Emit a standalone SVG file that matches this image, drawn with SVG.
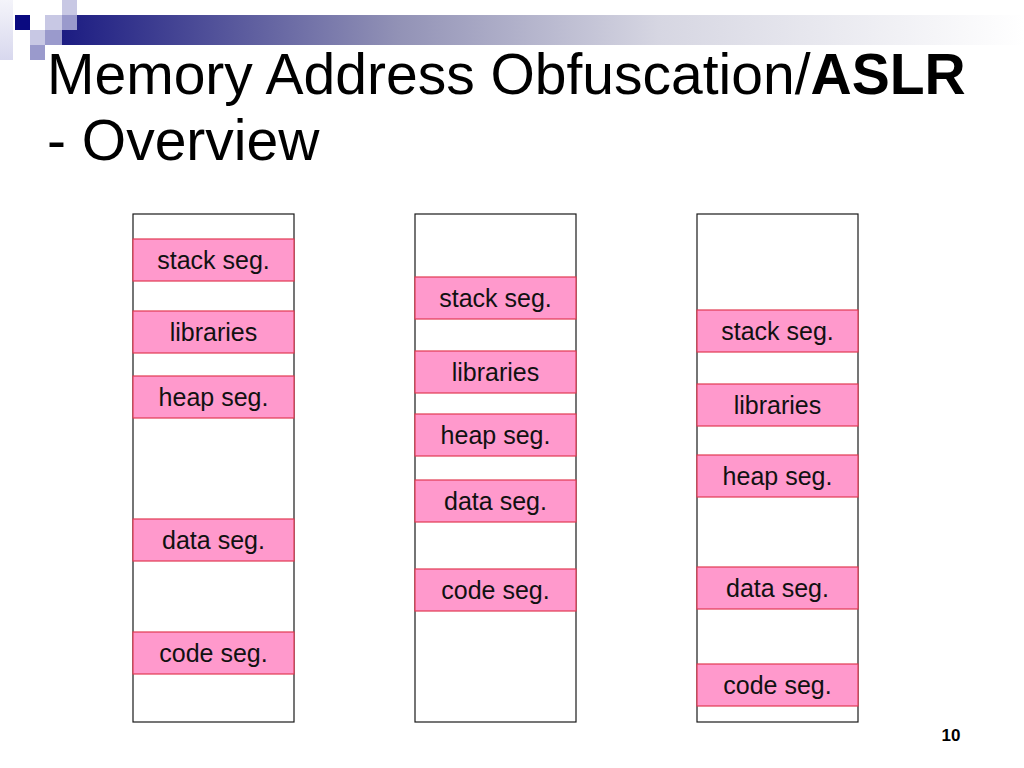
<svg xmlns="http://www.w3.org/2000/svg" width="1024" height="768" viewBox="0 0 1024 768">
  <defs>
    <linearGradient id="bar" x1="0" y1="0" x2="1" y2="0">
      <stop offset="0" stop-color="#1c1c82"/>
      <stop offset="0.35" stop-color="#9292b6"/>
      <stop offset="0.62" stop-color="#d6d6e2"/>
      <stop offset="1" stop-color="#ffffff"/>
    </linearGradient>
    <linearGradient id="strip" x1="0" y1="0" x2="0" y2="1">
      <stop offset="0" stop-color="#f4f4fa"/>
      <stop offset="1" stop-color="#d8d8ee"/>
    </linearGradient>
  </defs>
  <style>
    .col { fill: #ffffff; stroke: #1a1a1a; stroke-width: 1.2; }
    .seg { fill: #ff99cc; stroke: #e23a52; stroke-width: 1.2; }
    .lbl { font-family: "Liberation Sans", Arial, sans-serif; font-size: 25px; fill: #111111; text-anchor: middle; }
    .title { font-family: "Liberation Sans", Arial, sans-serif; font-size: 57px; fill: #000000; }
    .lt { fill: #c8c8e4; }
    .md { fill: #9a9acc; }
  </style>
  <rect width="1024" height="768" fill="#ffffff"/>

  <g id="decoration">
    <rect x="0" y="0" width="13" height="60" fill="url(#strip)"/>
    <rect x="62" y="15" width="962" height="30" fill="url(#bar)"/>
    <rect x="15" y="15" width="15" height="15" fill="#0a0a80"/>
    <rect class="lt" x="62" y="0" width="15" height="15"/>
    <rect class="lt" x="45" y="15" width="17" height="15"/>
    <rect class="lt" x="30" y="30" width="15" height="15"/>
    <rect class="md" x="62" y="15" width="15" height="15"/>
    <rect class="md" x="45" y="30" width="17" height="15"/>
    <rect class="md" x="30" y="45" width="15" height="15"/>
  </g>

  <g id="title">
    <text class="title" x="47" y="94">Memory Address Obfuscation/<tspan font-weight="bold">ASLR</tspan></text>
    <text class="title" x="47" y="160">- Overview</text>
  </g>

  <g id="layout1">
    <rect class="col" x="133" y="214" width="161" height="508"/>
    <rect class="seg" x="133" y="239" width="161" height="42"/>
    <text class="lbl" x="213.5" y="269">stack seg.</text>
    <rect class="seg" x="133" y="311" width="161" height="42"/>
    <text class="lbl" x="213.5" y="341">libraries</text>
    <rect class="seg" x="133" y="376" width="161" height="42"/>
    <text class="lbl" x="213.5" y="406">heap seg.</text>
    <rect class="seg" x="133" y="519" width="161" height="42"/>
    <text class="lbl" x="213.5" y="549">data seg.</text>
    <rect class="seg" x="133" y="632" width="161" height="42"/>
    <text class="lbl" x="213.5" y="662">code seg.</text>
  </g>

  <g id="layout2">
    <rect class="col" x="415" y="214" width="161" height="508"/>
    <rect class="seg" x="415" y="277" width="161" height="42"/>
    <text class="lbl" x="495.5" y="307">stack seg.</text>
    <rect class="seg" x="415" y="351" width="161" height="42"/>
    <text class="lbl" x="495.5" y="381">libraries</text>
    <rect class="seg" x="415" y="414" width="161" height="42"/>
    <text class="lbl" x="495.5" y="444">heap seg.</text>
    <rect class="seg" x="415" y="480" width="161" height="42"/>
    <text class="lbl" x="495.5" y="510">data seg.</text>
    <rect class="seg" x="415" y="569" width="161" height="42"/>
    <text class="lbl" x="495.5" y="599">code seg.</text>
  </g>

  <g id="layout3">
    <rect class="col" x="697" y="214" width="161" height="508"/>
    <rect class="seg" x="697" y="310" width="161" height="42"/>
    <text class="lbl" x="777.5" y="340">stack seg.</text>
    <rect class="seg" x="697" y="384" width="161" height="42"/>
    <text class="lbl" x="777.5" y="414">libraries</text>
    <rect class="seg" x="697" y="455" width="161" height="42"/>
    <text class="lbl" x="777.5" y="485">heap seg.</text>
    <rect class="seg" x="697" y="567" width="161" height="42"/>
    <text class="lbl" x="777.5" y="597">data seg.</text>
    <rect class="seg" x="697" y="664" width="161" height="42"/>
    <text class="lbl" x="777.5" y="694">code seg.</text>
  </g>

  <g id="connectors"></g>

  <g id="page-number">
    <text x="951" y="741" font-family="Liberation Sans, Arial, sans-serif" font-size="17" font-weight="bold" text-anchor="middle" fill="#000000">10</text>
  </g>
</svg>
